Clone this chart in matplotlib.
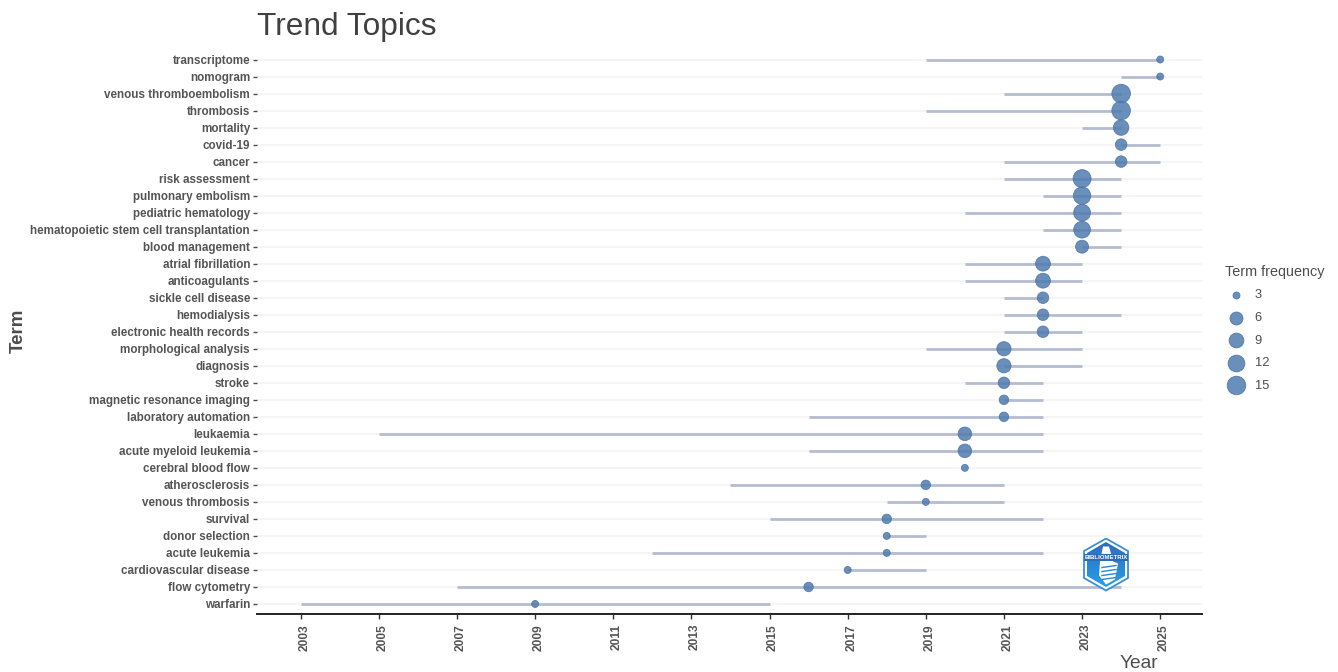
import numpy as np
import matplotlib
matplotlib.use('Agg')
import matplotlib.pyplot as plt
from matplotlib.patches import Polygon
from matplotlib.transforms import ScaledTranslation

terms = ['transcriptome', 'nomogram', 'venous thromboembolism', 'thrombosis', 'mortality',
         'covid-19', 'cancer', 'risk assessment', 'pulmonary embolism', 'pediatric hematology',
         'hematopoietic stem cell transplantation', 'blood management', 'atrial fibrillation',
         'anticoagulants', 'sickle cell disease', 'hemodialysis', 'electronic health records',
         'morphological analysis', 'diagnosis', 'stroke', 'magnetic resonance imaging',
         'laboratory automation', 'leukaemia', 'acute myeloid leukemia', 'cerebral blood flow',
         'atherosclerosis', 'venous thrombosis', 'survival', 'donor selection', 'acute leukemia',
         'cardiovascular disease', 'flow cytometry', 'warfarin']
year_start = [2019, 2024, 2021, 2019, 2023, 2024, 2021, 2021, 2022, 2020, 2022, 2023, 2020,
              2020, 2021, 2021, 2021, 2019, 2021, 2020, 2021, 2016, 2005, 2016, 2020,
              2014, 2018, 2015, 2018, 2012, 2017, 2007, 2003]
year_end = [2025, 2025, 2024, 2024, 2024, 2025, 2025, 2024, 2024, 2024, 2024, 2024, 2023,
            2023, 2022, 2024, 2023, 2023, 2023, 2022, 2022, 2022, 2022, 2022, 2020,
            2021, 2021, 2022, 2019, 2022, 2019, 2024, 2015]
year_median = [2025, 2025, 2024, 2024, 2024, 2024, 2024, 2023, 2023, 2023, 2023, 2023, 2022,
               2022, 2022, 2022, 2022, 2021, 2021, 2021, 2021, 2021, 2020, 2020, 2020,
               2019, 2019, 2018, 2018, 2018, 2017, 2016, 2009]
freq = [3, 3, 15, 15, 10, 5, 5, 14, 13, 12, 12, 6, 9,
        9, 5, 5, 5, 8, 8, 5, 4, 4, 7, 7, 3,
        4, 3, 4, 3, 3, 3, 4, 3]
legend_freq = [3, 6, 9, 12, 15]
year_ticks = list(range(2003, 2026, 2))

GREY = '#4d4d4d'
LINE = '#b5bcd1'
DOT = '#4f7cae'
FONT = ['Liberation Sans', 'DejaVu Sans']
plt.rcParams['font.family'] = FONT


def dot_area(f):
    d = np.interp(f, [3, 4, 5, 6, 9, 12, 15], [7, 9.5, 11.5, 13, 14.8, 16.8, 18.6])
    return (d * 0.72) ** 2


W, H = 1338, 672
fig = plt.figure(figsize=(W / 100, H / 100), dpi=100)
ax = fig.add_axes([257 / W, 1 - 613.5 / H, (1202 - 257) / W, (613.5 - 50) / H])

y = np.arange(len(terms))[::-1]
ax.hlines(y, 2001.88, 2026.07, color='#f3f3f3', lw=1.1, zorder=1)
ax.hlines(y, year_start, year_end, color=LINE, lw=2.0, zorder=2)
ax.scatter(year_median, y, s=dot_area(np.array(freq)), color=DOT, alpha=0.85,
           edgecolor='#4a74a4', linewidth=0.6, zorder=3)

ax.set_xlim(2001.88, 2026.07)
ax.set_ylim(-0.56, len(terms) - 1 + 0.56)
ax.set_yticks(y)
ax.set_yticklabels(terms, fontsize=8.4, fontweight='bold', color='#555555')
ax.set_xticks(year_ticks)
ax.set_xticklabels(year_ticks, rotation=90, fontsize=8.6, fontweight='bold', color='#555555')
ax.tick_params(axis='y', length=3, width=1, color=GREY, pad=2)
ax.tick_params(axis='x', length=3.5, width=1, color='#333333', pad=4)
# the year labels sit a little right of their ticks
shift = ScaledTranslation(3.5 / 100, 0, fig.dpi_scale_trans)
for lab in ax.get_xticklabels():
    lab.set_transform(lab.get_transform() + shift)
for side in ['top', 'left', 'right']:
    ax.spines[side].set_visible(False)
ax.spines['bottom'].set_linewidth(1.4)
ax.spines['bottom'].set_color('#222222')

fig.text(257 / W, 1 - 27 / H, 'Trend Topics', fontsize=22.8, color='#404040', ha='left', va='center')
fig.text(18.5 / W, 1 - 331 / H, 'Term', fontsize=13.5, fontweight='bold', color=GREY, rotation=90,
         ha='center', va='center')
fig.text(1139 / W, 1 - 664 / H, 'Year', fontsize=13.8, color=GREY, ha='center', va='center')

handles = [ax.scatter([], [], s=dot_area(f), color=DOT, alpha=0.85, edgecolor='#4a74a4', linewidth=0.6)
           for f in legend_freq]
leg = fig.legend(handles, legend_freq, title='Term frequency', frameon=False, loc='upper left',
                 bbox_to_anchor=(1213 / W, 1 - 253 / H), fontsize=9.3, title_fontsize=10.4,
                 labelspacing=0.82, handlelength=1.7, handletextpad=0.62, borderpad=0.4, labelcolor=GREY)
leg.get_title().set_color(GREY)
leg._legend_box.align = 'left'

# logo
logo = fig.add_axes([1082 / W, 1 - 591.5 / H, 48 / W, 54 / H])
logo.set_xlim(0, 48)
logo.set_ylim(54, 0)
logo.axis('off')
outer = [(24, 1), (46, 13.5), (46, 40.5), (24, 53), (2, 40.5), (2, 13.5)]
inner = [(24, 4.5), (43, 15.5), (43, 38.5), (24, 49.5), (5, 38.5), (5, 15.5)]
logo.add_patch(Polygon(outer, closed=True, fc='white', ec='#3a8fd6', lw=1.3, zorder=1))
grad = np.linspace(0, 1, 64)[:, None]
cols = np.array([0x2f, 0x68, 0xb8]) * (1 - grad) + np.array([0x24, 0xa6, 0xee]) * grad
im = logo.imshow(cols[:, None, :].astype(np.uint8), extent=(0, 48, 54, 0), aspect='auto', zorder=2)
im.set_clip_path(Polygon(inner, closed=True, transform=logo.transData))
logo.set_xlim(0, 48)
logo.set_ylim(54, 0)
logo.add_patch(Polygon([(21, 9), (27, 9), (29, 16), (31, 24), (36, 26), (33, 42), (24, 47), (17, 38), (18, 24)],
                       closed=True, fc='white', ec='none', zorder=3))
for yy in [29, 33, 37, 41]:
    logo.plot([20, 34], [yy + 1, yy - 1], color='#2a86d6', lw=1, zorder=4)
logo.text(24, 20, 'BIBLIOMETRIX', fontsize=4.4, fontweight='bold', color='white', ha='center', va='center',
          zorder=5, bbox=dict(fc='#2c6cba', ec='none', pad=0.4))

fig.savefig('out.png', dpi=100)
plt.close()
